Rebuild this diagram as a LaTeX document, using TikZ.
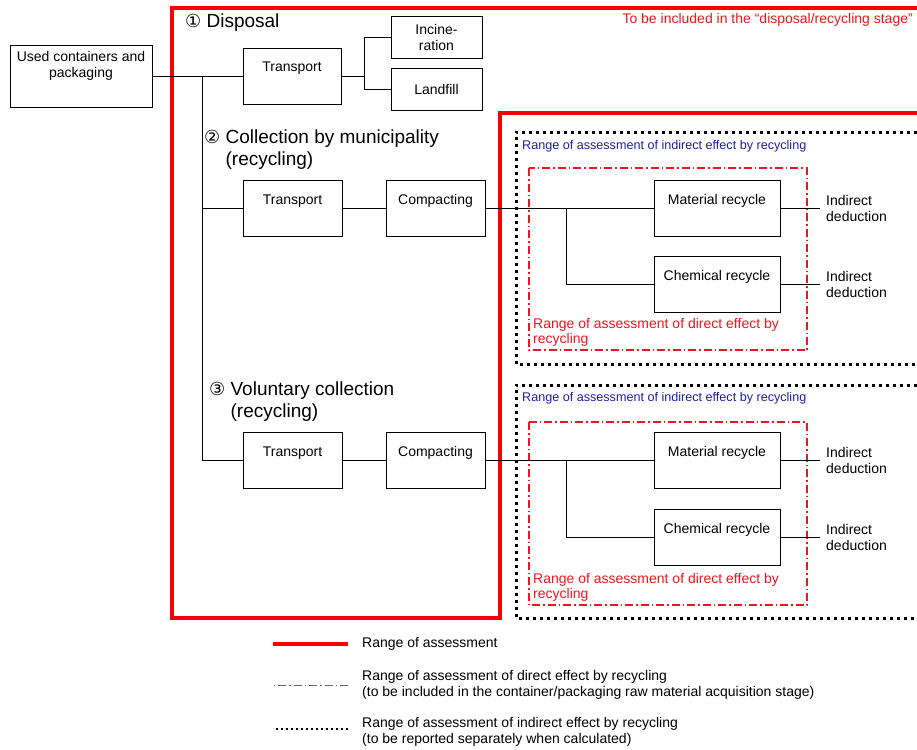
\documentclass[tikz,border=0pt]{standalone}
\usepackage{fontspec}
\setmainfont{Liberation Sans}
\newfontfamily\circfont{DejaVu Sans}
\usetikzlibrary{positioning}
\definecolor{rangered}{RGB}{250,0,0}
\definecolor{notered}{RGB}{240,20,30}
\definecolor{noteblue}{RGB}{30,30,170}
\newcommand{\circnum}[1]{{\circfont\fontsize{18}{22}\selectfont #1}}

\begin{document}
\begin{tikzpicture}[x=1pt, y=-1pt,
  box/.style={draw, line width=0.8pt, inner sep=0pt, align=center, font=\fontsize{14}{16}\selectfont},
  tallbox/.style={box, minimum width=#1, text height=24pt, text depth=32pt},
  head/.style={anchor=west, align=left, inner sep=0pt, font=\fontsize{19}{22}\selectfont},
  deduct/.style={anchor=west, align=left, inner xsep=6pt, inner ysep=0pt, font=\fontsize{14}{16}\selectfont},
  bluenote/.style={anchor=west, inner sep=2pt, text=noteblue, font=\fontsize{12.6}{15}\selectfont},
  rednote/.style={anchor=north west, align=left, inner sep=2pt, text=notered, font=\fontsize{14}{15.5}\selectfont},
  legend/.style={anchor=west, align=left, inner sep=2pt, font=\fontsize{14}{16}\selectfont},
  rangeframe/.style={draw=rangered, line width=4pt},
  directframe/.style={draw=notered, line width=1.1pt, dash pattern=on 8pt off 3pt on 1.5pt off 3pt},
  indirectframe/.style={draw=black, line width=3pt, dash pattern=on 3pt off 4pt},
  line/.style={draw, line width=0.8pt}]
\useasboundingbox (0,0) rectangle (917,749);

% ranges
\draw[rangeframe] (917,8) -- (172,8) -- (172,618) -- (500,618) -- (500,113) -- (917,113);
\draw[indirectframe] (917,132) -- (516,132) -- (516,364) -- (917,364);
\draw[indirectframe] (917,385) -- (516,385) -- (516,618) -- (917,618);
\draw[directframe] (529,168) rectangle (807,350);
\draw[directframe] (529,422) rectangle (807,605);

\node[anchor=east, inner sep=2pt, text=notered, font=\fontsize{14}{16}\selectfont] (stage) at (915,20) {To be included in the “disposal/recycling stage”};

% headings
\node[head] (disp) at (185,23) {\circnum{①}\ Disposal};
\node[head] (muni) at (204,150) {\circnum{②}\ Collection by municipality\\\phantom{\circnum{②}\ }(recycling)};
\node[head] (volu) at (209,402) {\circnum{③}\ Voluntary collection\\\phantom{\circnum{③}\ }(recycling)};

% boxes
\node[box, minimum width=142pt, text height=33pt, text depth=29pt] (used) at (81,76) {Used containers and\\packaging};
\node[tallbox=98pt] (trans1) at (292,76) {Transport};
\node[box, minimum width=91pt, minimum height=42pt] (incin) at (436.5,37) {Incine-\\ration};
\node[box, minimum width=91pt, minimum height=42pt] (landf) at (436.5,89) {Landfill};

\node[tallbox=99pt] (trans2) at (292.5,208) {Transport};
\node[tallbox=99pt] (comp2) at (435.5,208) {Compacting};
\node[tallbox=126pt] (mat2) at (717,208) {Material recycle};
\node[tallbox=126pt] (chem2) at (717,284) {Chemical recycle};
\node[deduct] (ded2a) at (820,208) {Indirect\\deduction};
\node[deduct] (ded2b) at (820,284) {Indirect\\deduction};
\node[bluenote] (ind2) at (520,146) {Range of assessment of indirect effect by recycling};
\node[rednote] (dir2) at (531,316) {Range of assessment of direct effect by\\recycling};

\node[tallbox=99pt] (trans3) at (292.5,460) {Transport};
\node[tallbox=99pt] (comp3) at (435.5,460) {Compacting};
\node[tallbox=126pt] (mat3) at (717,460) {Material recycle};
\node[tallbox=126pt] (chem3) at (717,537) {Chemical recycle};
\node[deduct] (ded3a) at (820,460) {Indirect\\deduction};
\node[deduct] (ded3b) at (820,537) {Indirect\\deduction};
\node[bluenote] (ind3) at (520,398) {Range of assessment of indirect effect by recycling};
\node[rednote] (dir3) at (531,571) {Range of assessment of direct effect by\\recycling};

% connectors
\coordinate (j1) at (202,76);
\coordinate (f1) at (364,76);
\coordinate (f2) at (566,208);
\coordinate (f3) at (566,460);
\draw[line] (used) -- (trans1);
\draw[line] (j1) |- (trans3);
\draw[line] (j1 |- trans2) -- (trans2);
\draw[line] (trans1) -- (f1);
\draw[line] (f1) |- (incin);
\draw[line] (f1) |- (landf);
\draw[line] (trans2) -- (comp2) -- (mat2);
\draw[line] (f2) |- (chem2);
\draw[line] (mat2) -- (ded2a);
\draw[line] (chem2) -- (ded2b);
\draw[line] (trans3) -- (comp3) -- (mat3);
\draw[line] (f3) |- (chem3);
\draw[line] (mat3) -- (ded3a);
\draw[line] (chem3) -- (ded3b);

% legend
\node[legend] (lgA) at (360,644) {Range of assessment};
\node[legend] (lgB) at (360,685) {Range of assessment of direct effect by recycling\\(to be included in the container/packaging raw material acquisition stage)};
\node[legend] (lgC) at (360,732) {Range of assessment of indirect effect by recycling\\(to be reported separately when calculated)};
\draw[rangeframe] ([xshift=-12pt]lgA.west) -- ++(-75,0);
\draw[directframe, draw=black!60, line width=0.8pt] ([xshift=-12pt]lgB.west) -- ++(-75,0);
\draw[indirectframe, line width=2.5pt, dash pattern=on 2.5pt off 2.5pt] ([xshift=-12pt,yshift=3pt]lgC.west) -- ++(-75,0);
\end{tikzpicture}
\end{document}
